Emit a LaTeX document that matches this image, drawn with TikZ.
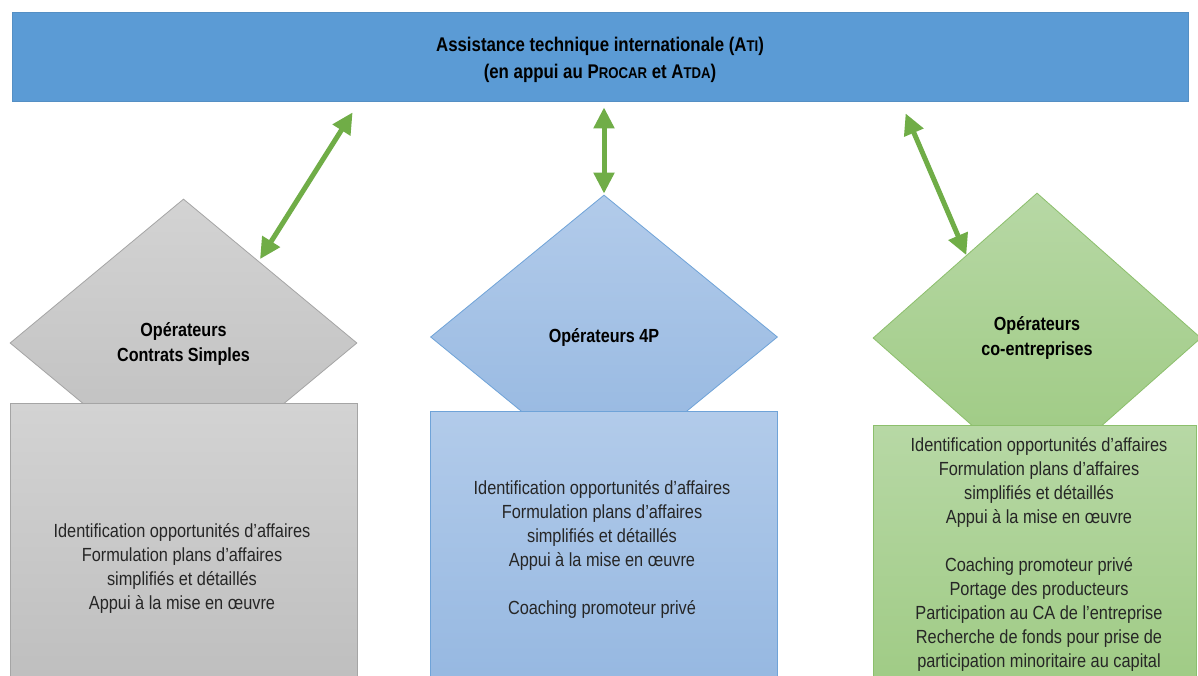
\documentclass[tikz,border=0pt]{standalone}
\usepackage{fontspec}
\setmainfont{Liberation Sans}
\newfontfamily\bodyfont[FakeStretch=0.86]{Liberation Sans}
\newfontfamily\headfont[FakeStretch=0.85]{Liberation Sans}
\usetikzlibrary{shapes.geometric,arrows.meta,calc}

\definecolor{barblue}{HTML}{5B9BD5}
\definecolor{linkgreen}{HTML}{70AD47}
\definecolor{textgray}{HTML}{262626}
\definecolor{grayTop}{HTML}{D3D3D3}
\definecolor{grayBot}{HTML}{BDBDBD}
\definecolor{grayLine}{HTML}{A5A5A5}
\definecolor{blueTop}{HTML}{B2CBEA}
\definecolor{blueBot}{HTML}{93B6E0}
\definecolor{blueLine}{HTML}{6FA3D8}
\definecolor{greenTop}{HTML}{B7D8A5}
\definecolor{greenBot}{HTML}{9CC980}
\definecolor{greenLine}{HTML}{8CBF6C}

% small capitals imitated with reduced upper-case letters
\newcommand\petitcap[1]{{\fontsize{15.5}{27}\selectfont #1}}

\tikzset{
  banner/.style={rectangle, fill=barblue, draw=barblue!92!black, line width=0.8pt,
    minimum width=1176pt, minimum height=89pt, inner sep=0pt, align=center,
    font=\headfont\bfseries\fontsize{19.8}{27}\selectfont},
  opdiamond/.style={diamond, inner sep=0pt, line width=0.8pt},
  opbox/.style={rectangle, inner sep=0pt, line width=0.8pt, anchor=north west},
  oplabel/.style={align=center, font=\headfont\bfseries\fontsize{19}{25}\selectfont},
  boxtext/.style={align=center, text=textgray, font=\bodyfont\fontsize{19}{24}\selectfont},
  link/.style={draw=linkgreen, line width=5pt,
    {Triangle[length=21pt,width=20pt]}-{Triangle[length=21pt,width=20pt]}}
}

\begin{document}
\begin{tikzpicture}[x=1pt,y=-1pt]
\useasboundingbox (0,0) rectangle (1198,676);
\clip (0,0) rectangle (1198,676);
\fill[white] (0,0) rectangle (1198,676);

% top banner
\node[banner] (ati) at (600,56.5) {};
\node[font=\headfont\bfseries\fontsize{19.8}{27}\selectfont, align=center]
  (atitext) at ($(ati.center)+(0,3)$)
  {Assistance technique internationale (A\petitcap{TI})\\
   (en appui au P\petitcap{ROCAR} et A\petitcap{TDA})};

% operator families: diamond heads
\node[opdiamond, draw=grayLine, top color=grayTop, bottom color=grayBot,
      minimum width=347pt, minimum height=288pt] (d1) at (183.5,343) {};
\node[opdiamond, draw=blueLine, top color=blueTop, bottom color=blueBot,
      minimum width=347pt, minimum height=284pt] (d2) at (604,337) {};
\node[opdiamond, draw=greenLine, top color=greenTop, bottom color=greenBot,
      minimum width=328pt, minimum height=290pt] (d3) at (1037,338) {};

% operator families: task boxes
\node[opbox, draw=grayLine, top color=grayTop, bottom color=grayBot,
      minimum width=347pt, minimum height=300pt] (b1) at (10,403) {};
\node[opbox, draw=blueLine, top color=blueTop, bottom color=blueBot,
      minimum width=347pt, minimum height=300pt] (b2) at (430,411) {};
\node[opbox, draw=greenLine, top color=greenTop, bottom color=greenBot,
      minimum width=323pt, minimum height=300pt] (b3) at (873,425) {};

% diamond captions
\node[oplabel] (l1) at (183.5,344.5) {Opérateurs\\Contrats Simples};
\node[oplabel] (l2) at (604,338) {Opérateurs 4P};
\node[oplabel] (l3) at (1037,338.5) {Opérateurs\\co-entreprises};

% box contents
\node[boxtext] (t1) at (182,568.5)
  {Identification opportunités d’affaires\\
   Formulation plans d’affaires\\
   simplifiés et détaillés\\
   Appui à la mise en œuvre};
\node[boxtext] (t2) at (602,549)
  {Identification opportunités d’affaires\\
   Formulation plans d’affaires\\
   simplifiés et détaillés\\
   Appui à la mise en œuvre\\[24pt]
   Coaching promoteur privé};
\node[boxtext] (t3) at (1039,554)
  {Identification opportunités d’affaires\\
   Formulation plans d’affaires\\
   simplifiés et détaillés\\
   Appui à la mise en œuvre\\[24pt]
   Coaching promoteur privé\\
   Portage des producteurs\\
   Participation au CA de l’entreprise\\
   Recherche de fonds pour prise de\\
   participation minoritaire au capital};

% link end points
\coordinate (u1) at ($(ati.south west)+(341,11)$);
\coordinate (u2) at ($(ati.south -| d2.north)+(0,6)$);
\coordinate (u3) at ($(ati.south west)+(894,12)$);
\coordinate (v1) at ($(d1.north)!0.44!(d1.east)+(0,-3)$);
\coordinate (v2) at ($(d2.north)+(0,-1)$);
\coordinate (v3) at ($(d3.north)!0.43!(d3.west)$);

% two-way support links
\draw[link] (u1) -- (v1);
\draw[link] (u2) -- (v2);
\draw[link] (u3) -- (v3);
\end{tikzpicture}
\end{document}
